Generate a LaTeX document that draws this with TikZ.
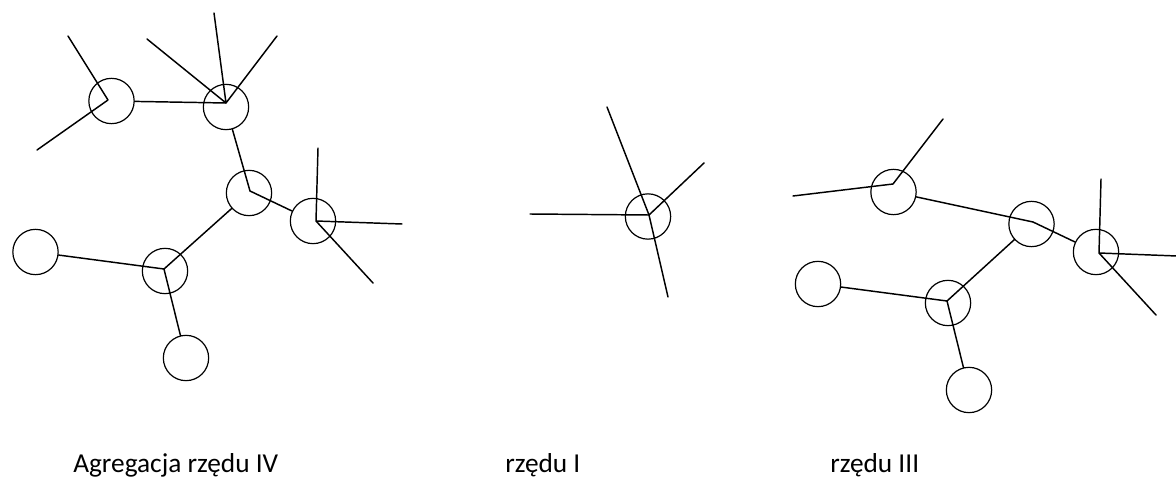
\documentclass[tikz,border=0pt]{standalone}
\usepackage{fontspec}
\setmainfont{Carlito}
\begin{document}
\begin{tikzpicture}[x=0.75pt,y=-0.75pt,
  particle/.style={draw, circle, inner sep=0pt, minimum size=34pt, line width=0.9pt},
  bond/.style={line width=1.1pt, line cap=round, line join=round},
  caption/.style={anchor=base west, inner sep=0pt, font=\fontsize{20.5}{24}\selectfont}]
\useasboundingbox (0,0) rectangle (1176,477);

% ---------- order IV aggregate ----------
\node[particle] (A) at (111.5,101) {};
\node[particle] (B) at (226,107) {};
\node[particle] (C) at (249,193) {};
\node[particle] (D) at (313,221) {};
\node[particle] (E) at (165,271) {};
\node[particle] (F) at (35.5,252) {};
\node[particle] (G) at (186,358) {};
\coordinate (ah) at (108,100);
\coordinate (bh) at (226,103);
\coordinate (ch) at (250,191);
\coordinate (dh) at (316,221);
\coordinate (eh) at (164,269);
\coordinate (a1) at (68,36);
\coordinate (a2) at (37,150);
\coordinate (b1) at (147,39);
\coordinate (b2) at (214,13);
\coordinate (b3) at (277,36);
\coordinate (d1) at (318,148);
\coordinate (d2) at (402,224);
\coordinate (d3) at (373,283);
\draw[bond] (a1) -- (ah) -- (a2);
\draw[bond] (b1) -- (bh) (b2) -- (bh) -- (b3);
\draw[bond] (d1) -- (dh) -- (d2) (dh) -- (d3);
\draw[bond] (A) -- (bh);
\draw[bond] (B) -- (ch);
\draw[bond] (ch) -- (D);
\draw[bond] (C) -- (eh);
\draw[bond] (eh) -- (F);
\draw[bond] (eh) -- (G);

% ---------- order I ----------
\node[particle] (P) at (648,216.5) {};
\coordinate (ph) at (649,215);
\coordinate (p1) at (530,214);
\coordinate (p2) at (607,107);
\coordinate (p3) at (704,163);
\coordinate (p4) at (668,297);
\draw[bond] (p1) -- (ph) -- (p3) (p2) -- (ph) -- (p4);

% ---------- order III ----------
\node[particle] (H) at (893.5,192) {};
\node[particle] (I) at (1031.5,224) {};
\node[particle] (J) at (1096,252) {};
\node[particle] (K) at (948,303) {};
\node[particle] (L) at (818,284) {};
\node[particle] (M) at (969,390) {};
\coordinate (hh) at (893,184);
\coordinate (ih) at (1033,222);
\coordinate (jh) at (1099,253);
\coordinate (kh) at (947,301);
\coordinate (h1) at (793,196);
\coordinate (h2) at (943,119);
\coordinate (j1) at (1101,179);
\coordinate (j2) at (1177,256);
\coordinate (j3) at (1156,315);
\draw[bond] (h1) -- (hh) -- (h2);
\draw[bond] (j1) -- (jh) -- (j2) (jh) -- (j3);
\draw[bond] (H) -- (ih);
\draw[bond] (ih) -- (J);
\draw[bond] (I) -- (kh);
\draw[bond] (kh) -- (L);
\draw[bond] (kh) -- (M);

% ---------- captions ----------
\node[caption] (t1) at (73,472) {Agregacja rzędu IV};
\node[caption] (t2) at (505,472) {rzędu I};
\node[caption] (t3) at (830,472) {rzędu III};
\end{tikzpicture}
\end{document}
